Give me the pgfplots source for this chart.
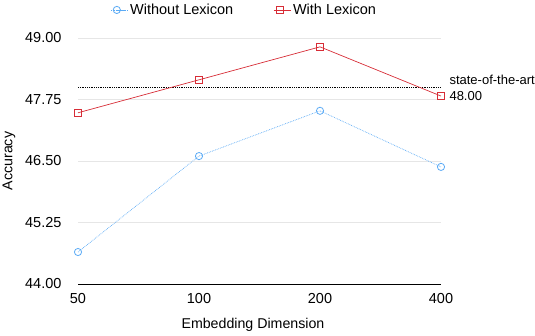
\documentclass[border=0pt]{standalone}
\usepackage{pgfplots}
\pgfplotsset{compat=1.18}
\usepackage{fontspec}
\setmainfont{Liberation Sans}
\definecolor{bluel}{RGB}{90,170,245}
\definecolor{redl}{RGB}{215,45,55}
\definecolor{gridc}{RGB}{230,230,230}
\begin{document}
\begin{tikzpicture}
\path[use as bounding box] (0,0) rectangle (535pt,336pt);
\begin{axis}[
    at={(78pt,52pt)}, anchor=south west,
    scale only axis, width=363pt, height=246pt,
    clip=false,
    xmin=0, xmax=3, ymin=44, ymax=49,
    xtick={0,1,2,3}, xticklabels={50,100,200,400},
    ytick={44,45.25,46.5,47.75,49},
    yticklabel style={/pgf/number format/fixed, /pgf/number format/fixed zerofill,
        /pgf/number format/precision=2, xshift=-13pt},
    /pgf/number format/assume math mode=true,
    ymajorgrids, grid style={gridc, line width=0.8pt},
    axis x line=bottom, axis y line=left,
    x axis line style={black, line width=0.9pt, -},
    y axis line style={draw=none},
    major tick length=0pt,
    tick label style={font=\fontsize{14.5}{16}\selectfont},
    xticklabel style={yshift=-6pt},
    xlabel={Embedding Dimension}, ylabel={Accuracy},
    every axis x label/.style={at={(axis description cs:0.482,-0.167)}, anchor=center,
        font=\fontsize{14.2}{16}\selectfont},
    every axis y label/.style={at={(axis description cs:-0.19,0.5)}, anchor=center, rotate=90,
        font=\fontsize{14.2}{16}\selectfont},
    legend style={draw=none, at={(0.458,1.114)}, anchor=center,
        font=\fontsize{14.5}{16}\selectfont, legend columns=2,
        /tikz/every even column/.append style={column sep=38pt}},
    legend cell align=left,
    legend image code/.code={
        \draw[mark repeat=2, mark phase=2, #1] plot coordinates {(-6pt,0pt) (0pt,0pt) (6pt,0pt)};
        \path (0pt,0pt) -- (11pt,0pt);},
]
\addplot[black, densely dotted, line width=0.8pt, forget plot] coordinates {(0,48) (3,48)};
\addplot[bluel, densely dotted, line width=0.7pt, mark=o, mark size=3.6pt,
    mark options={solid, fill=white, line width=0.8pt}] coordinates {
(0,44.65) (1,46.60) (2,47.52) (3,46.38)};
\addlegendentry{Without Lexicon}
\addplot[redl, line width=0.7pt, mark=square, mark size=3.6pt,
    mark options={solid, fill=white, line width=0.8pt}] coordinates {
(0,47.48) (1,48.15) (2,48.82) (3,47.82)};
\addlegendentry{With Lexicon}
\node[anchor=west, align=left, font=\fontsize{13}{16}\selectfont, xshift=5pt, yshift=-1pt]
    at (axis cs:3,48) {state-of-the-art\\48.00};
\end{axis}
\end{tikzpicture}
\end{document}
